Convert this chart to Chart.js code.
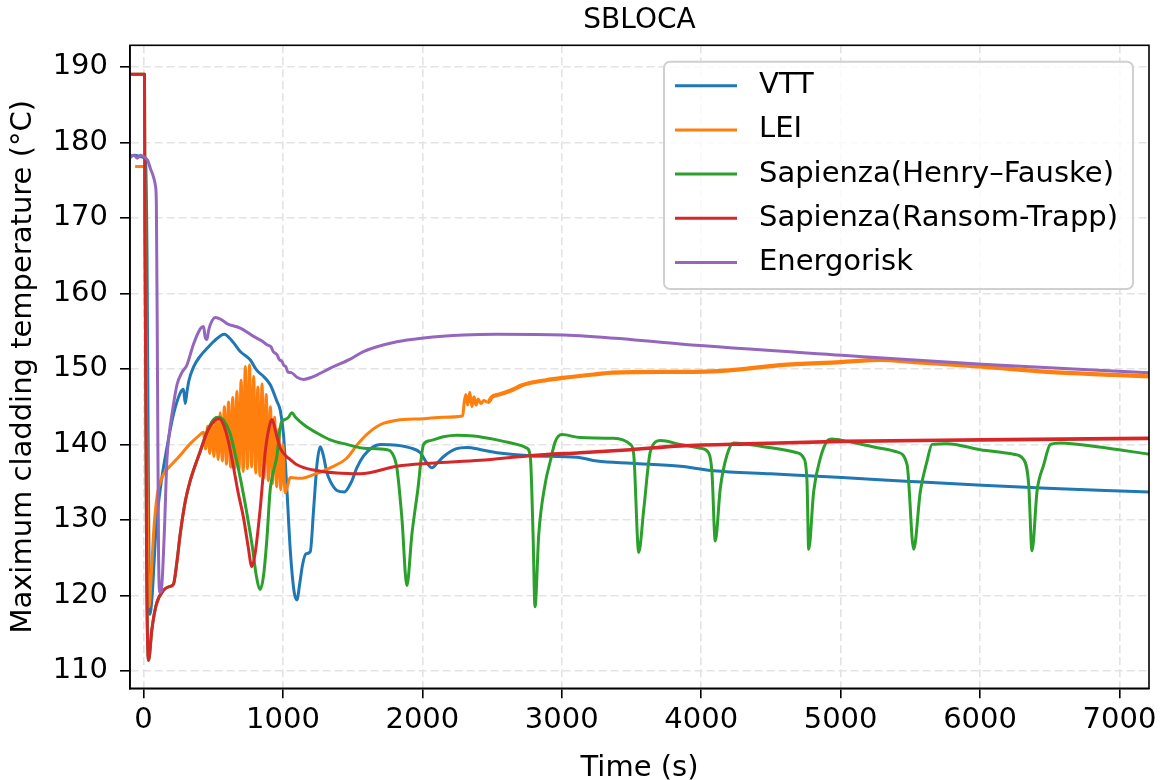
<!DOCTYPE html>
<html>
<head>
<meta charset="utf-8">
<title>SBLOCA</title>
<script src="https://cdn.jsdelivr.net/npm/chart.js"></script>
<style>
  html, body { margin: 0; padding: 0; background: #fff; }
  #wrap { width: 1164px; height: 780px; }
</style>
</head>
<body>
<div id="wrap"><canvas id="chart" width="1164" height="780"></canvas></div>
<script>
// Maximum cladding temperature during the small-break LOCA, per code/team
const vttTime = [-97, -60, -20, 15, 25, 35, 45, 60, 72, 90, 120, 168, 215, 263, 287, 299, 312, 325, 360, 407,
  460, 502, 579, 640, 694, 765, 813, 861, 909, 957, 981, 1004, 1029, 1053, 1080, 1100, 1120, 1140, 1165, 1196,
  1220, 1245, 1268, 1290, 1315, 1340, 1387, 1440, 1490, 1530, 1580, 1640, 1697, 1817, 1920, 1985, 2030, 2069,
  2110, 2153, 2240, 2320, 2420, 2535, 2775, 3110, 3253, 3500, 3851, 4089, 4500, 5010, 5500, 6014, 6481, 6900, 7212];
const vttTemp = [178.2, 178.3, 178.1, 177.8, 165, 135, 117.5, 119.5, 123.1, 129.0, 134.1, 139.6, 144.0, 146.8, 147.3, 145.4, 147.0, 148.4, 150.3, 151.7,
  152.8, 153.6, 154.6, 153.6, 152.3, 151.2, 149.8, 149.0, 147.9, 145.7, 144.5, 141.3, 133.8, 125.9, 120.5, 119.4, 121.5, 124.0, 125.5, 125.8,
  131.4, 137.5, 139.7, 138.5, 136.3, 135.1, 133.9, 133.7, 135.0, 136.9, 138.5, 139.6, 140.0, 139.9, 139.5, 138.9, 137.6, 136.9,
  137.6, 138.4, 139.4, 139.6, 139.3, 138.9, 138.5, 138.3, 137.8, 137.5, 137.1, 136.5, 136.1, 135.6, 135.1, 134.6, 134.2, 133.9, 133.7];

const leiTime = [-60, 8, 15, 28, 40, 55, 75, 100, 130, 160, 200, 260, 330, 400,
  430, 445, 460, 475, 490, 505, 520, 535, 550, 565, 580, 595, 610, 625, 640, 655, 670, 685, 700, 715,
  730, 745, 760, 775, 790, 805, 820, 835, 850, 865, 880, 895, 910, 925, 940, 955, 970, 985, 1000, 1015,
  1030, 1052, 1125, 1220, 1339, 1459, 1530, 1600, 1697, 1817, 2009, 2150, 2290, 2300, 2312, 2325, 2340,
  2355, 2370, 2385, 2400, 2420, 2440, 2470, 2500, 2550, 2600, 2655, 2710, 2765, 2885, 3005, 3253, 3363,
  3722, 3850, 4200, 4566, 5000, 5290, 5529, 6014, 6481, 6959, 7212];
const leiTemp = [176.8, 176.8, 160, 130, 118.5, 122.5, 129.0, 133.5, 135.5, 136.5, 137.3, 138.5, 140.0, 141.2,
  141.6, 139.4, 142.4, 138.8, 143.0, 138.4, 143.6, 138.0, 144.2, 137.8, 145.0, 137.4, 145.6, 137.0, 146.2, 136.8, 147.0, 136.6, 148.5, 136.4,
  150.3, 136.8, 150.5, 137.0, 149.0, 136.2, 147.6, 135.8, 148.0, 135.6, 146.6, 135.2, 145.0, 134.8, 143.6, 134.4, 142.0, 134.0, 140.0, 133.6,
  134.3, 135.6, 135.5, 136.0, 136.9, 138.2, 139.9, 141.3, 142.6, 143.2, 143.4, 143.6, 143.8, 145.6, 146.6, 145.2, 146.9,
  145.0, 146.3, 145.2, 146.0, 145.4, 145.8, 145.6, 146.3, 146.6, 146.9, 147.3, 147.8, 148.1, 148.5, 148.8, 149.3, 149.5,
  149.6, 149.6, 149.8, 150.5, 150.9, 151.2, 150.9, 150.3, 149.6, 149.2, 149.0];

const henryTime = [-97, 7, 10, 22, 36, 60, 92, 144, 190, 215, 240, 263, 300, 335, 407, 460, 514, 545, 574,
  620, 660, 700, 740, 780, 810, 837, 860, 885, 909, 933, 957, 975, 990, 1017, 1040, 1064, 1090, 1150, 1244,
  1339, 1458, 1577, 1745, 1781, 1817, 1853, 1889, 1925, 1966, 2009, 2057, 2150, 2248, 2367, 2535, 2678,
  2750, 2775, 2794, 2808, 2835, 2882, 2918, 2954, 3001, 3133, 3372, 3492, 3516, 3552, 3588, 3636, 3708,
  3850, 3994, 4053, 4077, 4101, 4137, 4185, 4233, 4448, 4687, 4735, 4759, 4771, 4807, 4855, 4902, 4938,
  5046, 5285, 5405, 5477, 5524, 5572, 5620, 5656, 5763, 6002, 6241, 6313, 6349, 6373, 6409, 6457, 6505,
  6576, 6839, 7212];
const henryTemp = [189.0, 189.0, 170, 125, 111.4, 115.5, 118.8, 120.7, 121.2, 121.5, 124.5, 128.1, 132.5, 135.2, 139.1, 141.9, 143.5, 143.6, 143.2,
  141.5, 138.5, 135.0, 131.0, 126.5, 122.5, 120.8, 122.5, 127.5, 134.1, 136.5, 138.5, 141.5, 143.0, 143.3, 143.6, 144.2, 143.6, 142.6, 141.5,
  140.6, 140.0, 139.5, 139.3, 138.9, 136.9, 130.3, 121.3, 128.1, 133.8, 140.0, 140.5, 141.0, 141.2, 141.1, 140.6, 140.0,
  139.5, 138.2, 128.1, 118.5, 128.1, 134.9, 137.8, 140.4, 141.3, 140.9, 140.8, 140.0, 138.7, 125.7, 131.4, 139.1, 140.5,
  140.0, 139.5, 138.9, 136.4, 127.2, 134.2, 138.6, 140.2, 139.7, 138.9, 138.2, 135.1, 126.1, 133.8, 138.2, 140.4, 140.7,
  140.4, 139.5, 139.0, 137.3, 126.1, 133.8, 137.8, 140.0, 140.1, 139.3, 138.7, 138.0, 134.7, 125.9, 133.8, 137.3, 140.0,
  140.2, 139.7, 138.7];

const ransomTime = [-97, 7, 10, 22, 36, 60, 92, 144, 190, 215, 240, 263, 300, 335, 407, 460, 514, 545, 574,
  610, 646, 680, 717, 750, 777, 800, 837, 873, 900, 921, 940, 957, 981, 1020, 1052, 1100, 1220, 1387, 1555,
  1817, 2057, 2416, 2775, 3133, 3492, 3850, 4400, 5010, 6014, 7212];
const ransomTemp = [189.0, 189.0, 170, 125, 111.4, 115.5, 118.8, 120.7, 121.2, 121.5, 124.5, 128.1, 132.5, 135.2, 139.1, 141.8, 143.2, 143.4, 142.6,
  140.3, 136.9, 133.5, 130.3, 126.5, 123.8, 125.5, 131.5, 139.0, 142.2, 143.3, 142.3, 141.0, 139.5, 138.5, 138.0, 137.3, 136.6, 136.2, 136.1,
  137.1, 137.5, 137.9, 138.5, 138.9, 139.3, 139.8, 140.1, 140.4, 140.6, 140.8];

const energoTime = [-97, -70, -45, -20, 10, 30, 50, 70, 85, 92, 100, 108, 118, 132, 150, 168, 185, 204, 240, 275,
  311, 359, 407, 431, 442, 455, 466, 478, 514, 560, 598, 694, 789, 850, 885, 915, 930, 957, 975, 993, 1005,
  1020, 1035, 1060, 1100, 1148, 1208, 1340, 1483, 1577, 1817, 2009, 2296, 2535, 3013, 3492, 3850, 5010, 6014, 7212];
const energoTemp = [178.0, 178.3, 177.9, 178.3, 178.0, 177.6, 176.5, 175.5, 174.3, 172.0, 150.0, 125.0, 120.4, 121.5, 128.7, 138.0, 141.5, 144.0, 147.9, 149.5,
  150.5, 153.3, 155.3, 155.6, 154.2, 153.9, 155.0, 155.8, 156.8, 156.5, 156.0, 155.4, 154.3, 153.7, 153.2, 152.9, 152.3, 151.9, 151.2, 151.0, 150.5,
  150.3, 149.6, 149.5, 148.9, 148.6, 148.9, 150.1, 151.3, 152.3, 153.6, 154.1, 154.5, 154.6, 154.5, 153.9, 153.3, 151.8, 150.6, 149.5];

const seriesNames = ['VTT', 'LEI', 'Sapienza(Henry–Fauske)', 'Sapienza(Ransom-Trapp)', 'Energorisk'];
const seriesColors = ['#1f77b4', '#ff7f0e', '#2ca02c', '#d62728', '#9467bd'];
const xTicks = [0, 1000, 2000, 3000, 4000, 5000, 6000, 7000];
const yTicks = [110, 120, 130, 140, 150, 160, 170, 180, 190];

const FONT = "'DejaVu Sans', 'Liberation Sans', sans-serif";
Chart.defaults.font.family = FONT;
Chart.defaults.color = '#000';

const toPoints = (ts, vs) => ts.map((t, i) => ({ x: t, y: vs[i] }));
const series = [
  toPoints(vttTime, vttTemp),
  toPoints(leiTime, leiTemp),
  toPoints(henryTime, henryTemp),
  toPoints(ransomTime, ransomTemp),
  toPoints(energoTime, energoTemp)
];

// later series sit on top, like the plotting order of the original script
const datasets = series.map((pts, i) => ({
  label: seriesNames[i],
  data: pts,
  borderColor: seriesColors[i],
  backgroundColor: seriesColors[i],
  borderWidth: 3,
  pointRadius: 0,
  cubicInterpolationMode: 'monotone',
  borderJoinStyle: 'round',
  order: series.length - i
}));
// the LEI and Ransom-Trapp traces are noisy late in the transient: draw them a bit fatter there
datasets[1].segment = { borderWidth: c => (c.p0.parsed.x >= 2450 ? 4.2 : 3) };
datasets[3].segment = { borderWidth: c => (c.p0.parsed.x >= 2700 ? 3.6 : 3) };

const gridStyle = { color: '#e3e3e3', lineWidth: 1.6, tickLength: 10, tickColor: '#000', tickWidth: 1.6 };
const borderStyle = { display: true, color: '#000', width: 1.6, dash: [8, 4] };

// box around the axes (matplotlib style spines)
const frame = {
  id: 'frame',
  afterDatasetsDraw(chart) {
    const { ctx, chartArea: a } = chart;
    ctx.save();
    ctx.strokeStyle = '#000';
    ctx.lineWidth = 1.6;
    ctx.strokeRect(a.left, a.top, a.right - a.left, a.bottom - a.top);
    ctx.restore();
  }
};

// framed legend in the upper right corner of the axes
const boxedLegend = {
  id: 'boxedLegend',
  afterDraw(chart) {
    const { ctx, chartArea: a } = chart;
    const w = 469, h = 227.3;
    const right = a.right - 16;
    const top = a.top + 16.4;
    const left = right - w;
    ctx.save();
    ctx.beginPath();
    ctx.roundRect(left, top, w, h, 6);
    ctx.fillStyle = 'rgba(255,255,255,0.8)';
    ctx.fill();
    ctx.strokeStyle = '#d0d0d0';
    ctx.lineWidth = 2;
    ctx.stroke();
    ctx.font = '29px ' + FONT;
    ctx.textBaseline = 'middle';
    ctx.textAlign = 'left';
    chart.data.datasets.forEach((ds, i) => {
      const y = top + 24 + i * 44.2;
      ctx.strokeStyle = ds.borderColor;
      ctx.lineWidth = 3;
      ctx.beginPath();
      ctx.moveTo(left + 11, y);
      ctx.lineTo(left + 73, y);
      ctx.stroke();
      ctx.fillStyle = '#000';
      ctx.fillText(ds.label, left + 95, y);
    });
    ctx.restore();
  }
};

new Chart(document.getElementById('chart'), {
  type: 'line',
  data: { datasets },
  plugins: [frame, boxedLegend],
  options: {
    responsive: false,
    animation: false,
    devicePixelRatio: 1,
    layout: { padding: { left: 0, right: 15, top: 0, bottom: 0 } },
    plugins: {
      legend: { display: false },
      tooltip: { enabled: false },
      title: {
        display: true,
        text: 'SBLOCA',
        fullSize: false,
        color: '#000',
        font: { size: 28, weight: 'normal' },
        padding: { top: 4, bottom: 7.7 }
      }
    },
    scales: {
      x: {
        type: 'linear',
        min: -97,
        max: 7212,
        afterBuildTicks: s => { s.ticks = xTicks.map(v => ({ value: v })); },
        afterFit: s => { s.height = 91.7; },
        ticks: { font: { size: 29 }, color: '#000', padding: 5, maxRotation: 0, callback: v => String(v) },
        grid: gridStyle,
        border: borderStyle,
        title: {
          display: true,
          text: 'Time (s)',
          color: '#000',
          font: { size: 29, lineHeight: 0.8 },
          padding: { top: 0, bottom: 0 }
        }
      },
      y: {
        type: 'linear',
        min: 107.7,
        max: 192.85,
        afterBuildTicks: s => { s.ticks = yTicks.map(v => ({ value: v })); },
        afterFit: s => { s.width = 130; },
        ticks: { font: { size: 29 }, color: '#000', padding: 12, callback: v => String(v) },
        grid: gridStyle,
        border: borderStyle,
        title: {
          display: true,
          text: 'Maximum cladding temperature (°C)',
          color: '#000',
          font: { size: 29 },
          padding: { top: 5.6, bottom: 0 }
        }
      }
    }
  }
});
</script>
</body>
</html>
